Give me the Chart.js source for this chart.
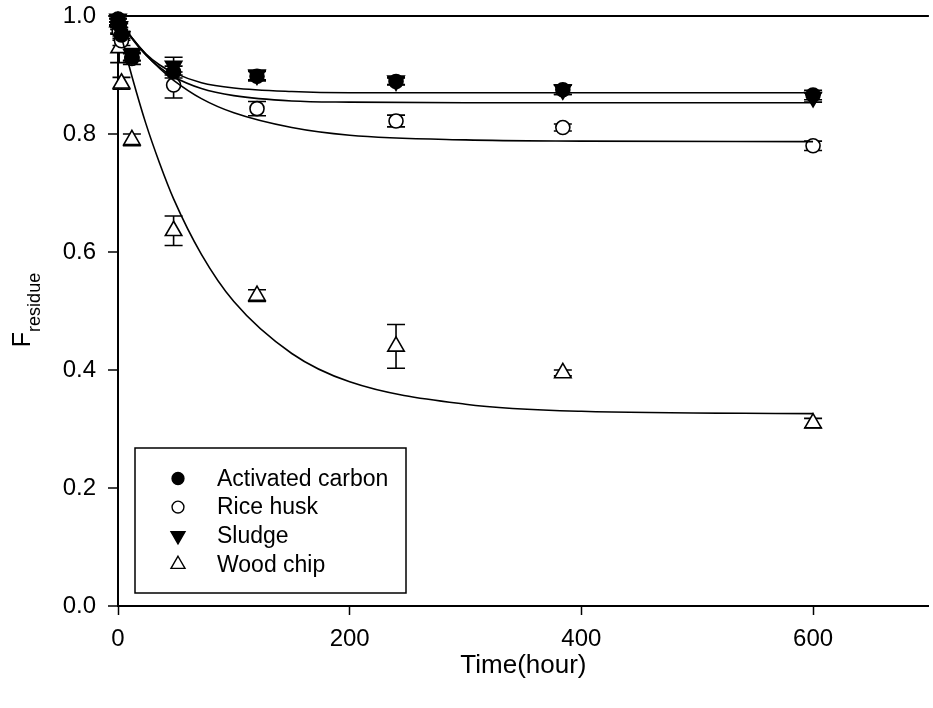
<!DOCTYPE html>
<html>
<head>
<meta charset="utf-8">
<script src="https://cdn.jsdelivr.net/npm/chart.js@4.4.1/dist/chart.umd.min.js"></script>
<style>
  html, body { margin: 0; padding: 0; background: #fff; overflow: hidden; }
  #wrap { width: 940px; height: 708px; }
</style>
</head>
<body>
<div id="wrap"><canvas id="chart-residue" width="940" height="708"></canvas></div>
<script>
// ============================================================
// Residual fraction vs time – measured points + fitted curves
// ============================================================

const SERIES_NAMES = ["Activated carbon", "Rice husk", "Sludge", "Wood chip"];

// measured sampling times (hour)
const TIMES = [0, 1, 3, 12, 48, 120, 240, 384, 600];

const AC_VALUES  = [0.995, 0.985, 0.968, 0.930, 0.905, 0.898, 0.889, 0.875, 0.866];
const AC_ERR     = [0.005, 0.005, 0.006, 0.006, 0.010, 0.008, 0.006, 0.008, 0.008];
const RH_VALUES  = [0.990, 0.975, 0.958, 0.928, 0.883, 0.843, 0.822, 0.811, 0.780];
const RH_ERR     = [0.005, 0.006, 0.008, 0.010, 0.022, 0.012, 0.010, 0.006, 0.008];
const SL_VALUES  = [0.995, 0.982, 0.965, 0.935, 0.915, 0.900, 0.890, 0.875, 0.862];
const SL_ERR     = [0.005, 0.005, 0.006, 0.010, 0.015, 0.008, 0.006, 0.008, 0.008];
const WC_VALUES  = [0.990, 0.946, 0.886, 0.790, 0.636, 0.526, 0.440, 0.395, 0.310];
const WC_ERR     = [0.006, 0.025, 0.010, 0.010, 0.025, 0.010, 0.037, 0.005, 0.008];

// fitted curves
const FIT_TIMES = [0, 3, 6, 12, 24, 36, 48, 72, 100, 150, 200, 300, 400, 600];
const AC_FIT = [1.000, 0.990, 0.980, 0.963, 0.936, 0.917, 0.904, 0.887, 0.878, 0.872, 0.870, 0.870, 0.870, 0.870];
const SL_FIT = [1.000, 0.989, 0.980, 0.962, 0.934, 0.913, 0.897, 0.877, 0.865, 0.856, 0.854, 0.853, 0.853, 0.853];
const RH_FIT = [0.997, 0.988, 0.979, 0.963, 0.935, 0.911, 0.891, 0.860, 0.836, 0.811, 0.798, 0.790, 0.788, 0.787];
const WC_FIT = [0.990, 0.965, 0.942, 0.898, 0.818, 0.750, 0.690, 0.596, 0.516, 0.428, 0.380, 0.342, 0.330, 0.326];

const X_TICKS = [0, 200, 400, 600];
const Y_TICKS = [0, 0.2, 0.4, 0.6, 0.8, 1.0];

const fontFamily = "'Liberation Sans', Arial, sans-serif";
const INK = "#000";

const toPts = (xs, ys) => xs.map((x, i) => ({ x, y: ys[i] }));

const markerSet = (label, values, err, style) => ({
  type: "scatter",
  label,
  data: toPts(TIMES, values),
  errors: err,
  isMarker: true,
  clip: false,
  pointStyle: style.shape,
  rotation: style.rotation || 0,
  pointRadius: style.radius,
  pointHoverRadius: style.radius,
  pointBackgroundColor: style.fill,
  pointBorderColor: INK,
  pointBorderWidth: 1.6,
  showLine: false
});

const fitSet = (values) => ({
  type: "line",
  label: "",
  data: toPts(FIT_TIMES, values),
  borderColor: INK,
  borderWidth: 1.6,
  pointRadius: 0,
  fill: false,
  cubicInterpolationMode: "monotone"
});

// ─── ERROR BARS ───────────────────────────────────────────────
const errorBars = {
  id: "errorBars",
  beforeDatasetsDraw(chart) {
    const { ctx, scales: { x, y } } = chart;
    ctx.save();
    ctx.strokeStyle = INK;
    ctx.lineWidth = 1.6;
    chart.data.datasets.forEach(ds => {
      if (!ds.isMarker) return;
      ds.data.forEach((p, i) => {
        const e = ds.errors[i];
        const px = x.getPixelForValue(p.x);
        const top = y.getPixelForValue(p.y + e);
        const bot = y.getPixelForValue(p.y - e);
        ctx.beginPath();
        ctx.moveTo(px, top); ctx.lineTo(px, bot);
        ctx.moveTo(px - 9, top); ctx.lineTo(px + 9, top);
        ctx.moveTo(px - 9, bot); ctx.lineTo(px + 9, bot);
        ctx.stroke();
      });
    });
    ctx.restore();
  }
};

// ─── Y TITLE WITH SUBSCRIPT ───────────────────────────────────
const yTitle = {
  id: "yTitle",
  afterDraw(chart) {
    const { ctx } = chart;
    ctx.save();
    ctx.translate(30, 310);
    ctx.rotate(-Math.PI / 2);
    ctx.fillStyle = INK;
    ctx.textBaseline = "alphabetic";
    ctx.font = `25px ${fontFamily}`;
    const fw = ctx.measureText("F").width;
    ctx.font = `18px ${fontFamily}`;
    const sw = ctx.measureText("residue").width;
    const start = -(fw + sw) / 2;
    ctx.font = `25px ${fontFamily}`;
    ctx.fillText("F", start, 0);
    ctx.font = `18px ${fontFamily}`;
    ctx.fillText("residue", start + fw, 10);
    ctx.restore();
  }
};

// ─── BOXED LEGEND INSIDE THE PLOT ─────────────────────────────
const boxLegend = {
  id: "boxLegend",
  afterDraw(chart) {
    const { ctx } = chart;
    const box = { left: 135, top: 448, right: 406, bottom: 593 };
    ctx.save();
    ctx.fillStyle = "#fff";
    ctx.fillRect(box.left, box.top, box.right - box.left, box.bottom - box.top);
    ctx.strokeStyle = INK;
    ctx.lineWidth = 1.5;
    ctx.strokeRect(box.left, box.top, box.right - box.left, box.bottom - box.top);
    const markers = chart.data.datasets.filter(ds => ds.isMarker);
    markers.forEach((ds, i) => {
      const yy = 478.5 + i * 28.6;
      ctx.fillStyle = ds.pointBackgroundColor;
      ctx.strokeStyle = INK;
      ctx.lineWidth = 1.4;
      Chart.helpers.drawPoint(ctx, {
        pointStyle: ds.pointStyle,
        rotation: ds.rotation,
        radius: ds.pointRadius * 0.85,
        borderWidth: 1.4
      }, 178, yy);
      ctx.fillStyle = INK;
      ctx.font = `23px ${fontFamily}`;
      ctx.textBaseline = "middle";
      ctx.fillText(ds.label, 217, yy + 1);
    });
    ctx.restore();
  }
};

const ctx = document.getElementById("chart-residue");
new Chart(ctx, {
  type: "scatter",
  data: {
    datasets: [
      fitSet(AC_FIT),
      fitSet(SL_FIT),
      fitSet(RH_FIT),
      fitSet(WC_FIT),
      markerSet(SERIES_NAMES[0], AC_VALUES, AC_ERR, { shape: "circle", radius: 7, fill: INK }),
      markerSet(SERIES_NAMES[1], RH_VALUES, RH_ERR, { shape: "circle", radius: 7, fill: "#fff" }),
      markerSet(SERIES_NAMES[2], SL_VALUES, SL_ERR, { shape: "triangle", rotation: 180, radius: 9.5, fill: INK }),
      markerSet(SERIES_NAMES[3], WC_VALUES, WC_ERR, { shape: "triangle", radius: 9.5, fill: "#fff" })
    ]
  },
  options: {
    responsive: false,
    animation: false,
    devicePixelRatio: 1,
    layout: { padding: { left: 0, right: 1, top: 16, bottom: 0 } },
    plugins: {
      legend: { display: false },
      tooltip: { enabled: false }
    },
    scales: {
      x: {
        type: "linear",
        min: 0,
        max: 700,
        afterFit: (s) => { s.height = 102; s.paddingLeft = 0; s.paddingRight = 0; },
        afterBuildTicks: (s) => { s.ticks = X_TICKS.map(v => ({ value: v })); },
        border: { display: true, color: INK, width: 2 },
        grid: { drawOnChartArea: false, drawTicks: true, tickLength: 9, tickColor: INK, tickWidth: 1.5 },
        ticks: { color: INK, padding: 10, font: { family: fontFamily, size: 24 }, maxRotation: 0 },
        title: {
          display: true,
          text: "Time(hour)",
          color: INK,
          font: { family: fontFamily, size: 26 },
          padding: { top: 0, bottom: 27 }
        }
      },
      y: {
        type: "linear",
        min: 0,
        max: 1.0,
        afterFit: (s) => { s.width = 118; s.paddingTop = 0; s.paddingBottom = 0; },
        afterBuildTicks: (s) => { s.ticks = Y_TICKS.map(v => ({ value: v })); },
        border: { display: true, color: INK, width: 2 },
        grid: {
          drawOnChartArea: true,
          drawTicks: true,
          tickLength: 10,
          tickColor: INK,
          tickWidth: 1.5,
          color: (c) => (c.tick && Math.abs(c.tick.value - 1) < 1e-9 ? INK : "rgba(0,0,0,0)"),
          lineWidth: 2
        },
        ticks: {
          color: INK,
          padding: 12,
          font: { family: fontFamily, size: 24 },
          callback: (v) => Number(v).toFixed(1)
        }
      }
    }
  },
  plugins: [errorBars, yTitle, boxLegend]
});
</script>
</body>
</html>
